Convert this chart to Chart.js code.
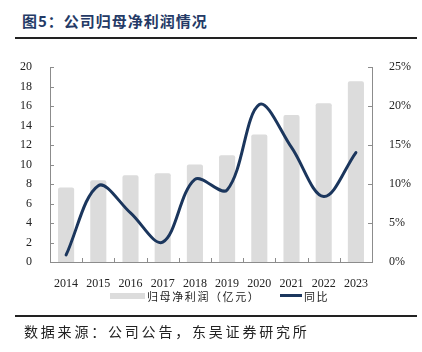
<!DOCTYPE html>
<html><head><meta charset="utf-8">
<script src="https://cdn.jsdelivr.net/npm/chart.js@4.4.1/dist/chart.umd.min.js"></script>
<style>
html,body{margin:0;padding:0;background:#fff;width:422px;height:352px;overflow:hidden;position:relative;}
#title{position:absolute;left:22px;top:11px;font-family:"Noto Sans CJK SC";font-weight:bold;font-size:15px;letter-spacing:1px;color:#243a66;white-space:nowrap;line-height:20px;}
#rule1{position:absolute;left:15px;top:36.5px;width:402px;height:2px;background:#222;}
#rule2{position:absolute;left:15px;top:314.5px;width:402px;height:2px;background:#222;}
#source{position:absolute;left:24px;top:322px;font-family:"Noto Sans CJK SC";font-size:14px;letter-spacing:2.8px;color:#222;white-space:nowrap;line-height:18px;}
#chart{position:absolute;left:0;top:50px;}
.leg{position:absolute;font-family:"Noto Sans CJK SC";font-size:11px;letter-spacing:1.6px;color:#222;white-space:nowrap;line-height:14px;top:288.5px;}
#lb{position:absolute;left:110px;top:292.5px;width:35px;height:6px;background:#dcdcdc;}
#ll{position:absolute;left:280px;top:294px;width:22px;height:3px;background:#1b365d;}
</style></head>
<body>
<div id="title">图5：公司归母净利润情况</div>
<div id="rule1"></div>
<canvas id="chart" width="422" height="240"></canvas>
<div id="lb"></div><div class="leg" id="lt1" style="left:147px;">归母净利润（亿元）</div>
<div id="ll"></div><div class="leg" id="lt2" style="left:304px;">同比</div>
<div id="rule2"></div>
<div id="source">数据来源：公司公告，东吴证券研究所</div>
<script>
const years = ['2014','2015','2016','2017','2018','2019','2020','2021','2022','2023'];
const netProfit = [7.65, 8.4, 8.9, 9.1, 10.0, 10.95, 13.1, 15.1, 16.3, 18.55];
const yoyGrowth = [0.9, 9.8, 6.3, 2.55, 10.6, 9.25, 20.2, 14.7, 8.4, 14.05];
const leftTicks = [0,2,4,6,8,10,12,14,16,18,20];
const rightTicks = [0,5,10,15,20,25];

const axisColor = '#8c8c8c';
const serif = '"Liberation Serif", "Times New Roman", serif';
const innerTicks = {
  id:'innerTicks',
  afterDraw(chart){
    const ctx = chart.ctx, a = chart.chartArea;
    ctx.save();
    ctx.strokeStyle = axisColor; ctx.lineWidth = 1;
    const yl = chart.scales.y, yr = chart.scales.y1, x = chart.scales.x;
    ctx.beginPath();
    leftTicks.forEach(v=>{const p=Math.round(yl.getPixelForValue(v))+0.5; ctx.moveTo(a.left,p); ctx.lineTo(a.left+4,p);});
    rightTicks.forEach(v=>{const p=Math.round(yr.getPixelForValue(v))+0.5; ctx.moveTo(a.right,p); ctx.lineTo(a.right-4,p);});
    for(let i=1;i<years.length;i++){
      const p=Math.round((x.getPixelForValue(i-1)+x.getPixelForValue(i))/2)+0.5;
      ctx.moveTo(p,a.bottom); ctx.lineTo(p,a.bottom-4);
    }
    ctx.stroke();
    ctx.restore();
  }
};

new Chart(document.getElementById('chart'), {
  data:{
    labels: years,
    datasets:[
      {type:'line', label:'同比', data: yoyGrowth, yAxisID:'y1', borderColor:'#1b365d', borderWidth:3, pointRadius:0, tension:0.35, borderCapStyle:'round', order:0},
      {type:'bar', label:'归母净利润（亿元）', data: netProfit, yAxisID:'y', backgroundColor:'#dcdcdc', barPercentage:0.5, categoryPercentage:1.0, borderRadius:{topLeft:2,topRight:2}, borderSkipped:'bottom', order:1}
    ]
  },
  options:{
    responsive:false, animation:false, devicePixelRatio:1,
    layout:{padding:{top:13,left:0,right:0,bottom:0}},
    plugins:{legend:{display:false}, tooltip:{enabled:false}},
    scales:{
      x:{
        offset:true,
        grid:{display:false, offset:true},
        border:{display:true,color:axisColor,width:1},
        ticks:{color:'#222', font:{family:serif, size:12}, padding:7, maxRotation:0},
        afterFit(s){ s.height = 28; }
      },
      y:{
        position:'left', min:0, max:20,
        afterBuildTicks(s){ s.ticks = leftTicks.map(v=>({value:v})); },
        grid:{display:false},
        border:{display:true,color:axisColor,width:1},
        ticks:{color:'#222', font:{family:serif, size:12}, padding:10},
        afterFit(s){ s.width = 50; }
      },
      y1:{
        position:'right', min:0, max:25,
        afterBuildTicks(s){ s.ticks = rightTicks.map(v=>({value:v})); },
        grid:{display:false},
        border:{display:true,color:axisColor,width:1},
        ticks:{color:'#222', font:{family:serif, size:12}, padding:9, callback:v=>v+'%'},
        afterFit(s){ s.width = 50; }
      }
    }
  },
  plugins:[innerTicks]
});
</script>
</body></html>
